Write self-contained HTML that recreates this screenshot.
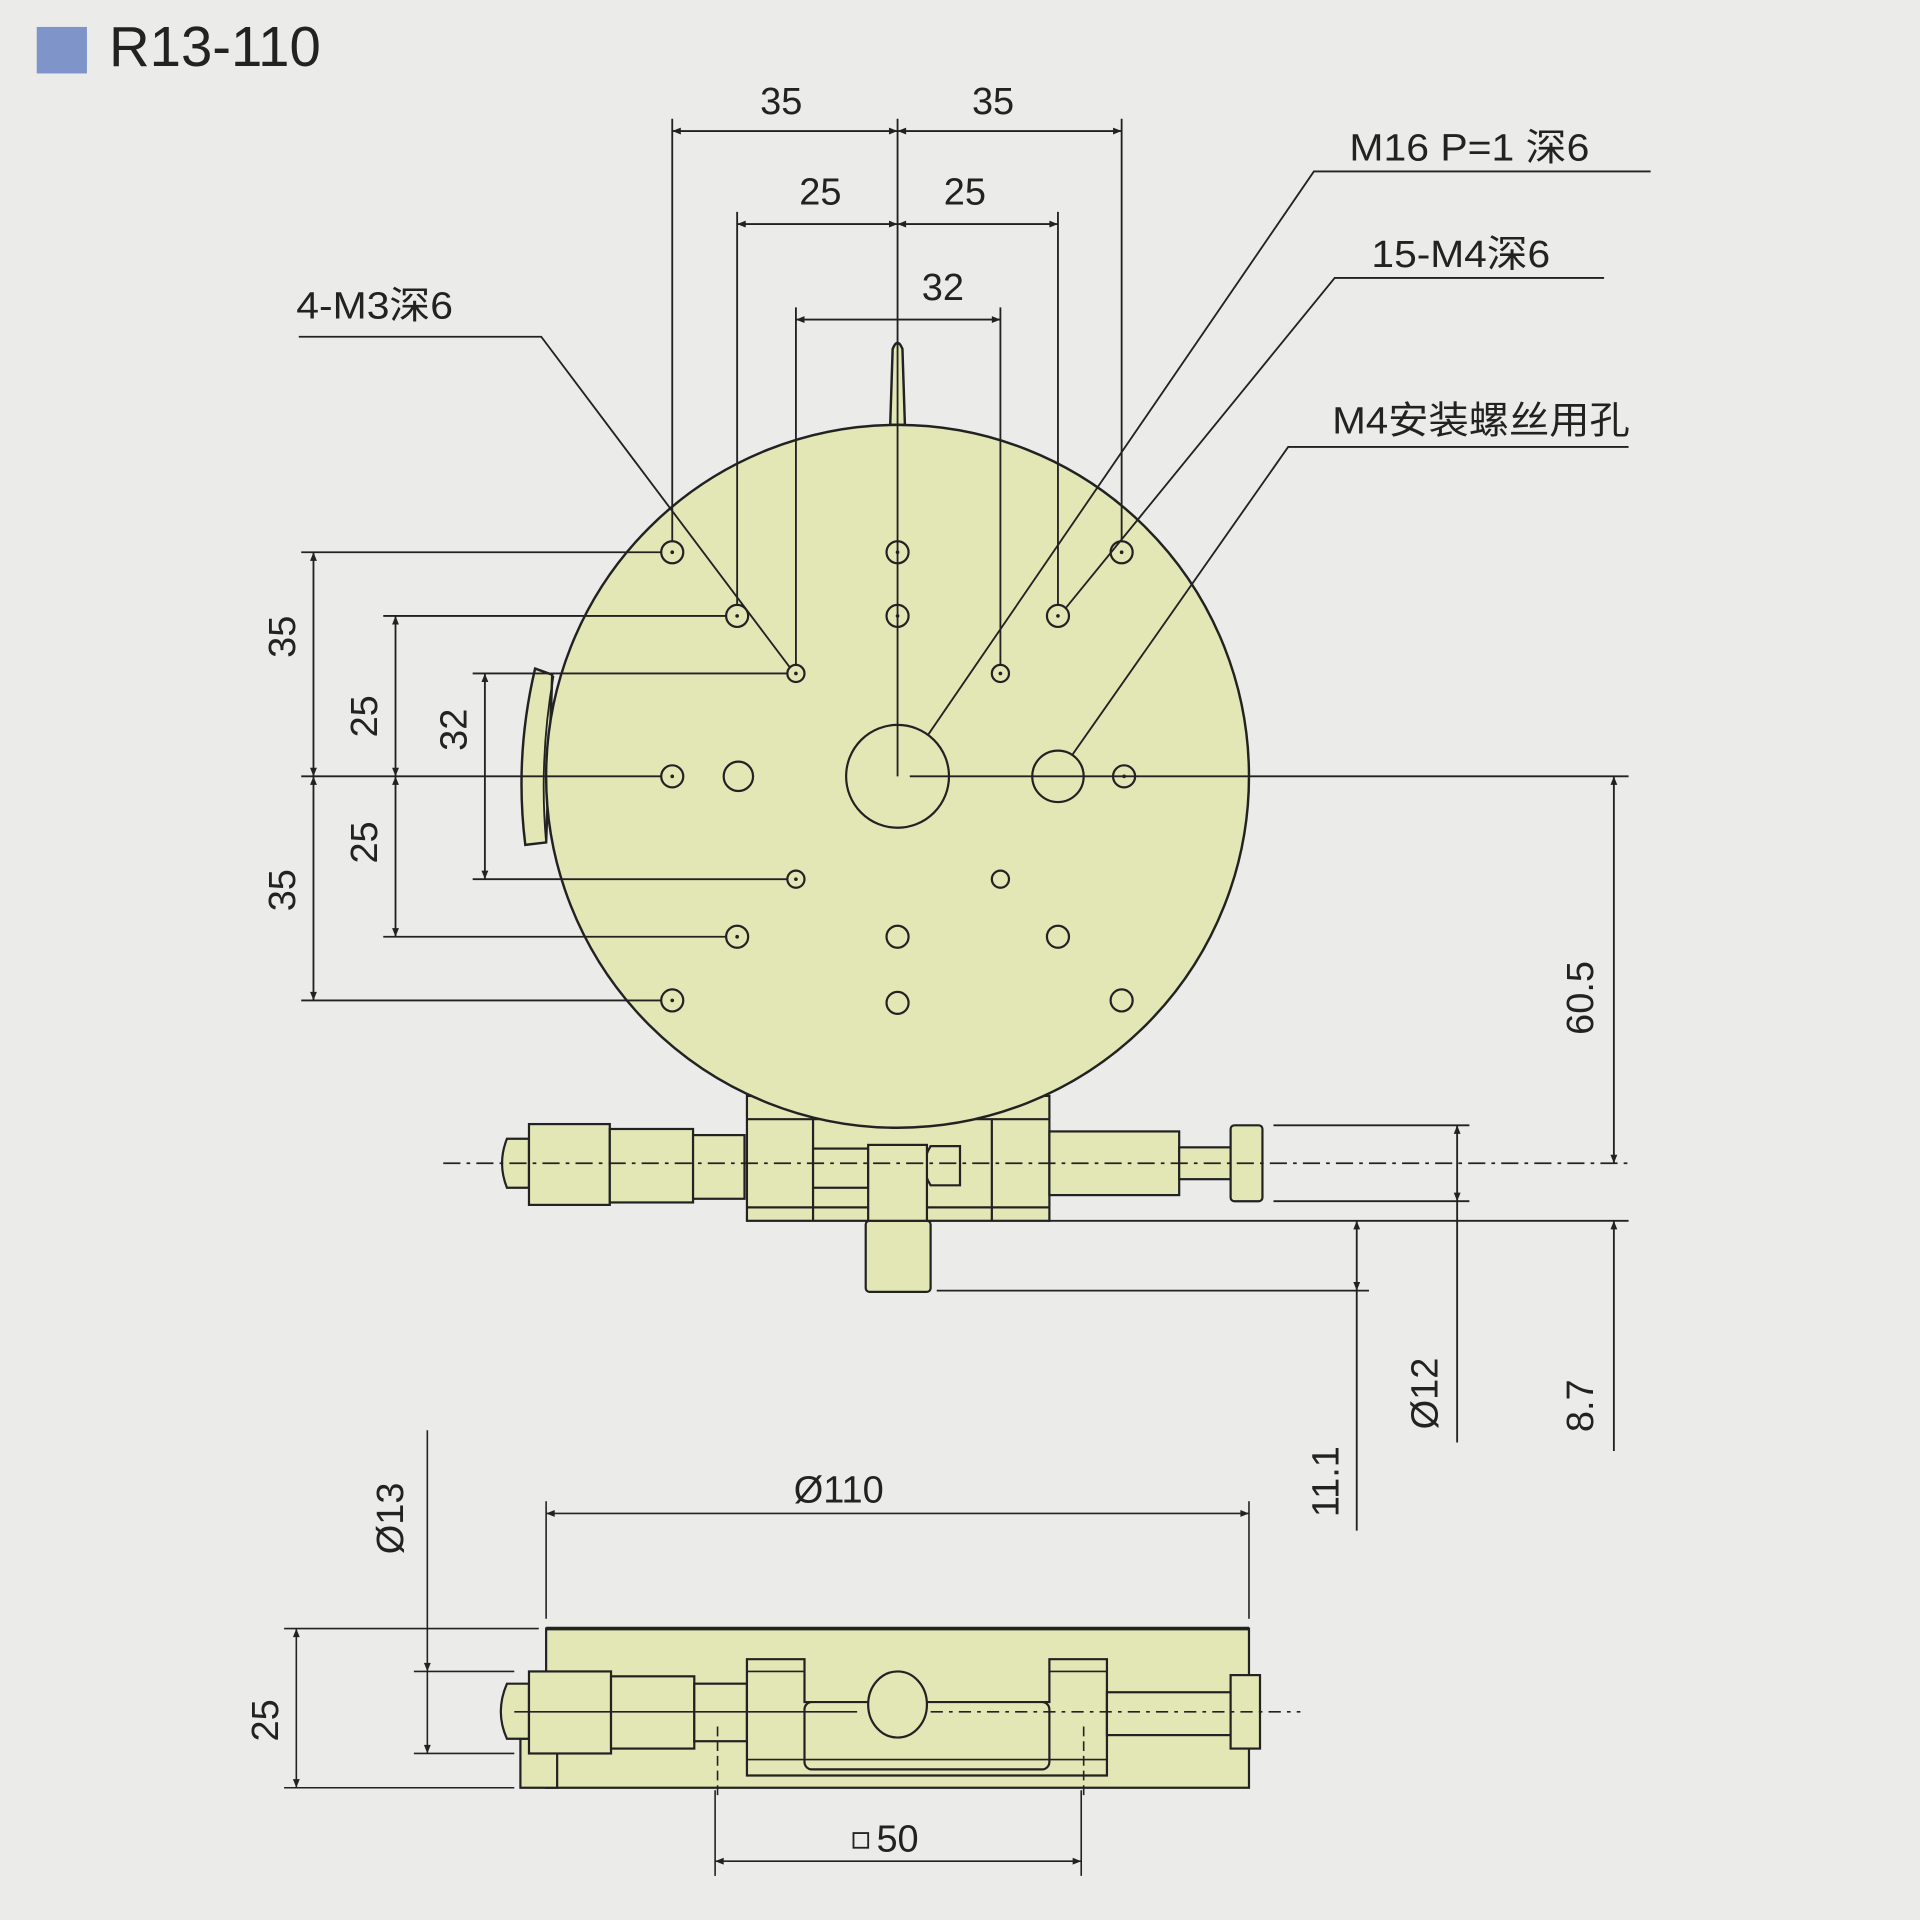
<!DOCTYPE html>
<html><head><meta charset="utf-8"><style>
html,body{margin:0;padding:0;background:#ebebe9;}
svg{display:block}
text{font-family:"Liberation Sans","Noto Sans CJK SC",sans-serif;fill:#222}
</style></head><body>
<svg width="1920" height="1920" viewBox="0 0 1568 1568" xmlns="http://www.w3.org/2000/svg">
<defs>
<marker id="a" viewBox="0 0 10 10" refX="10" refY="5" markerWidth="9" markerHeight="7" orient="auto-start-reverse" markerUnits="userSpaceOnUse"><path d="M0,1 L10,5 L0,9 Z" fill="#222"/></marker>
</defs>
<rect width="1568" height="1568" fill="#ebebe9"/>
<rect x="30" y="22" width="41" height="38" fill="#7f95c9"/>
<text x="89" y="54" font-size="46">R13-110</text>

<!-- micrometer top view -->
<g stroke="#222" stroke-width="1.8" fill="#e3e6b5">
<rect x="610" y="895" width="247" height="102"/>
<rect x="707" y="997" width="53" height="58" rx="3"/>
<path d="M414,930 L432,930 L432,970 L414,970 Q406,950 414,930Z"/>
<rect x="432" y="918" width="66" height="66"/>
<rect x="498" y="922" width="68" height="60"/>
<rect x="566" y="927" width="42" height="52"/>
<rect x="857" y="924" width="106" height="52"/>
<rect x="963" y="937" width="42" height="26"/>
<rect x="1005" y="919" width="26" height="62" rx="3"/>
<line x1="610" y1="914" x2="857" y2="914"/>
<line x1="610" y1="986" x2="857" y2="986"/>
<line x1="664" y1="914" x2="664" y2="997"/>
<line x1="810" y1="914" x2="810" y2="997"/>
<rect x="664" y="938" width="45" height="32"/>
<path d="M760,936 L784,936 L784,968 L760,968 Q750,952 760,936Z"/>
<rect x="709" y="935" width="48" height="62"/>
</g>

<!-- disc -->
<g stroke="#222" stroke-width="2" fill="#e3e6b5">
<path d="M437,546 L451,551 L446,688 L429,690 Q420,618 437,546Z"/>
<path d="M727,347 L729,285 Q733,275 737,285 L739,347Z"/>
<circle cx="733" cy="634" r="287"/>
</g>
<path d="M452,552 Q440,620 446,688" stroke="#222" stroke-width="1.5" fill="none"/>

<g stroke="#222" stroke-width="1.5" fill="none">
<!-- top extension lines -->
<line x1="549" y1="97" x2="549" y2="442"/>
<line x1="916" y1="97" x2="916" y2="442"/>
<line x1="733" y1="97" x2="733" y2="634"/>
<line x1="602" y1="173" x2="602" y2="494"/>
<line x1="864" y1="173" x2="864" y2="494"/>
<line x1="650" y1="251" x2="650" y2="543"/>
<line x1="817" y1="251" x2="817" y2="543"/>
<line x1="549" y1="107" x2="733" y2="107" marker-start="url(#a)" marker-end="url(#a)"/>
<line x1="733" y1="107" x2="916" y2="107" marker-start="url(#a)" marker-end="url(#a)"/>
<line x1="602" y1="183" x2="733" y2="183" marker-start="url(#a)" marker-end="url(#a)"/>
<line x1="733" y1="183" x2="864" y2="183" marker-start="url(#a)" marker-end="url(#a)"/>
<line x1="650" y1="261" x2="817" y2="261" marker-start="url(#a)" marker-end="url(#a)"/>
<!-- left extension lines -->
<line x1="246" y1="451" x2="540" y2="451"/>
<line x1="246" y1="817" x2="540" y2="817"/>
<line x1="246" y1="634" x2="540" y2="634"/>
<line x1="313" y1="503" x2="593" y2="503"/>
<line x1="313" y1="765" x2="593" y2="765"/>
<line x1="386" y1="550" x2="643" y2="550"/>
<line x1="386" y1="718" x2="643" y2="718"/>
<line x1="256" y1="451" x2="256" y2="634" marker-start="url(#a)" marker-end="url(#a)"/>
<line x1="256" y1="634" x2="256" y2="817" marker-start="url(#a)" marker-end="url(#a)"/>
<line x1="323" y1="503" x2="323" y2="634" marker-start="url(#a)" marker-end="url(#a)"/>
<line x1="323" y1="634" x2="323" y2="765" marker-start="url(#a)" marker-end="url(#a)"/>
<line x1="396" y1="550" x2="396" y2="718" marker-start="url(#a)" marker-end="url(#a)"/>
</g>

<g stroke="#222" stroke-width="1.8" fill="none">
<circle cx="549" cy="451" r="9"/><circle cx="733" cy="451" r="9"/><circle cx="916" cy="451" r="9"/>
<circle cx="602" cy="503" r="9"/><circle cx="733" cy="503" r="9"/><circle cx="864" cy="503" r="9"/>
<circle cx="549" cy="634" r="9"/><circle cx="918" cy="634" r="9"/>
<circle cx="602" cy="765" r="9"/><circle cx="733" cy="765" r="9"/><circle cx="864" cy="765" r="9"/>
<circle cx="549" cy="817" r="9"/><circle cx="733" cy="819" r="9"/><circle cx="916" cy="817" r="9"/>
<circle cx="650" cy="550" r="7"/><circle cx="817" cy="550" r="7"/><circle cx="650" cy="718" r="7"/><circle cx="817" cy="718" r="7"/>
<circle cx="603" cy="634" r="12"/><circle cx="864" cy="634" r="21"/><circle cx="733" cy="634" r="42"/>
</g>
<g fill="#222">
<circle cx="549" cy="451" r="1.5"/><circle cx="916" cy="451" r="1.5"/><circle cx="733" cy="451" r="1.5"/>
<circle cx="602" cy="503" r="1.5"/><circle cx="864" cy="503" r="1.5"/><circle cx="733" cy="503" r="1.5"/>
<circle cx="549" cy="634" r="1.5"/><circle cx="918" cy="634" r="1.5"/><circle cx="602" cy="765" r="1.5"/><circle cx="549" cy="817" r="1.5"/>
<circle cx="650" cy="550" r="1.5"/><circle cx="817" cy="550" r="1.5"/><circle cx="650" cy="718" r="1.5"/>
</g>

<g stroke="#222" stroke-width="1.5" fill="none">
<line x1="743" y1="634" x2="1330" y2="634"/>
<line x1="362" y1="950" x2="1330" y2="950" stroke-dasharray="14,5,3,5"/>
<line x1="1318" y1="634" x2="1318" y2="950" marker-start="url(#a)" marker-end="url(#a)"/>
<line x1="1040" y1="919" x2="1200" y2="919"/>
<line x1="1040" y1="981" x2="1200" y2="981"/>
<line x1="1190" y1="919" x2="1190" y2="981" marker-start="url(#a)" marker-end="url(#a)"/>
<line x1="1190" y1="981" x2="1190" y2="1178"/>
<line x1="857" y1="997" x2="1330" y2="997"/>
<line x1="1318" y1="997" x2="1318" y2="1185" marker-start="url(#a)"/>
<line x1="765" y1="1054" x2="1118" y2="1054"/>
<line x1="1108" y1="997" x2="1108" y2="1054" marker-start="url(#a)" marker-end="url(#a)"/>
<line x1="1108" y1="1054" x2="1108" y2="1250"/>
<!-- leaders -->
<polyline points="244,275 442,275 645,545"/>
<polyline points="1348,140 1073,140 758,600"/>
<polyline points="1310,227 1090,227 870,497"/>
<polyline points="1330,365 1052,365 876,616"/>
</g>

<!-- side view -->
<g stroke="#222" stroke-width="1.8" fill="#e3e6b5">
<rect x="446" y="1330" width="574" height="130"/>
<rect x="425" y="1420" width="30" height="40"/>
<path d="M414,1375 L432,1375 L432,1420 L414,1420 Q404,1398 414,1375Z"/>
<rect x="432" y="1365" width="67" height="67"/>
<rect x="499" y="1369" width="68" height="59"/>
<rect x="567" y="1375" width="43" height="47"/>
<path d="M610,1355 L657,1355 L657,1390 L857,1390 L857,1355 L904,1355 L904,1450 L610,1450Z"/>
<rect x="657" y="1390" width="200" height="55" rx="6"/>
<rect x="904" y="1382" width="103" height="35"/>
<rect x="1005" y="1368" width="24" height="60"/>
<ellipse cx="733" cy="1392" rx="24" ry="27"/>
</g>
<g stroke="#222" stroke-width="1.3" fill="none">
<line x1="446" y1="1330" x2="1020" y2="1330" stroke-width="3"/>
<line x1="610" y1="1365" x2="657" y2="1365"/>
<line x1="857" y1="1365" x2="904" y2="1365"/>
<line x1="610" y1="1437" x2="904" y2="1437"/>
<line x1="420" y1="1398" x2="700" y2="1398"/>
<line x1="760" y1="1398" x2="1062" y2="1398" stroke-dasharray="10,5,3,5"/>
<line x1="586" y1="1410" x2="586" y2="1470" stroke-dasharray="8,4"/>
<line x1="885" y1="1410" x2="885" y2="1470" stroke-dasharray="8,4"/>
<line x1="446" y1="1226" x2="446" y2="1322"/>
<line x1="1020" y1="1226" x2="1020" y2="1322"/>
<line x1="446" y1="1236" x2="1020" y2="1236" marker-start="url(#a)" marker-end="url(#a)"/>
<line x1="232" y1="1330" x2="440" y2="1330"/>
<line x1="232" y1="1460" x2="420" y2="1460"/>
<line x1="242" y1="1330" x2="242" y2="1460" marker-start="url(#a)" marker-end="url(#a)"/>
<line x1="338" y1="1365" x2="420" y2="1365"/>
<line x1="338" y1="1432" x2="420" y2="1432"/>
<line x1="349" y1="1168" x2="349" y2="1365" marker-end="url(#a)"/>
<line x1="349" y1="1365" x2="349" y2="1432" marker-end="url(#a)"/>
<line x1="584" y1="1462" x2="584" y2="1532"/>
<line x1="883" y1="1462" x2="883" y2="1532"/>
<line x1="584" y1="1520" x2="883" y2="1520" marker-start="url(#a)" marker-end="url(#a)"/>
</g>

<g font-size="31">
<text x="638" y="93" text-anchor="middle">35</text>
<text x="811" y="93" text-anchor="middle">35</text>
<text x="670" y="167" text-anchor="middle">25</text>
<text x="788" y="167" text-anchor="middle">25</text>
<text x="770" y="245" text-anchor="middle">32</text>
<text x="242" y="260" textLength="128" lengthAdjust="spacingAndGlyphs">4-M3深6</text>
<text x="1102" y="131" textLength="196" lengthAdjust="spacingAndGlyphs">M16 P=1 深6</text>
<text x="1120" y="218" textLength="146" lengthAdjust="spacingAndGlyphs">15-M4深6</text>
<text x="1088" y="354" textLength="243" lengthAdjust="spacingAndGlyphs">M4安装螺丝用孔</text>
<text transform="translate(241,520) rotate(-90)" text-anchor="middle">35</text>
<text transform="translate(241,727) rotate(-90)" text-anchor="middle">35</text>
<text transform="translate(308,585) rotate(-90)" text-anchor="middle">25</text>
<text transform="translate(308,688) rotate(-90)" text-anchor="middle">25</text>
<text transform="translate(381,596) rotate(-90)" text-anchor="middle">32</text>
<text transform="translate(1301,815) rotate(-90)" text-anchor="middle">60.5</text>
<text transform="translate(1174,1138) rotate(-90)" text-anchor="middle">Ø12</text>
<text transform="translate(1301,1148) rotate(-90)" text-anchor="middle">8.7</text>
<text transform="translate(1093,1210) rotate(-90)" text-anchor="middle">11.1</text>
<text x="685" y="1227" text-anchor="middle">Ø110</text>
<text transform="translate(227,1405) rotate(-90)" text-anchor="middle">25</text>
<text transform="translate(329,1240) rotate(-90)" text-anchor="middle">Ø13</text>
<text x="733" y="1512" text-anchor="middle">50</text>
</g>
<rect x="697" y="1497" width="12" height="12" fill="none" stroke="#222" stroke-width="1.5"/>
</svg>
</body></html>
